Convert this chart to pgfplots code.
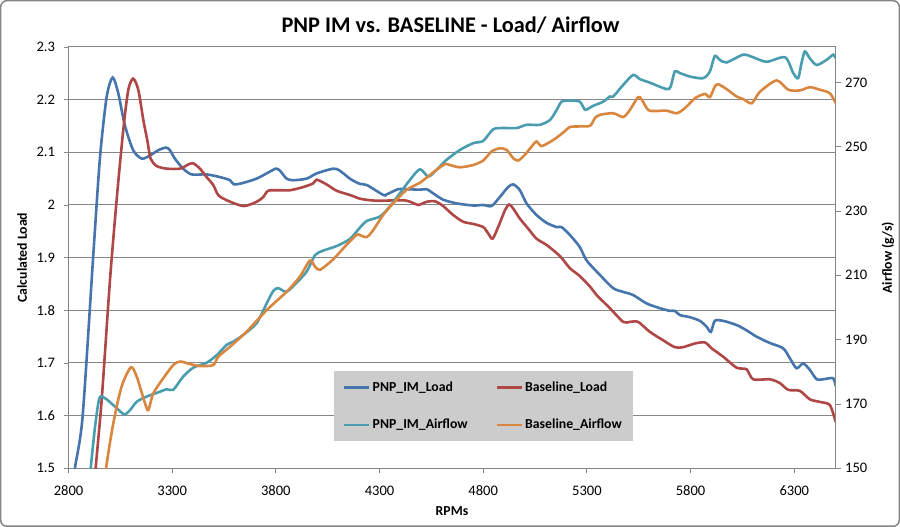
\documentclass[border=0pt]{standalone}
\usepackage{fontspec}
\setmainfont{Carlito}
\usepackage{pgfplots}
\pgfplotsset{compat=1.18}
\definecolor{cblue}{HTML}{4674AC}
\definecolor{cred}{HTML}{AE4745}
\definecolor{cteal}{HTML}{4A9DAF}
\definecolor{corange}{HTML}{D9863F}
\definecolor{axgray}{RGB}{134,134,134}
\definecolor{leggray}{RGB}{204,204,204}
\newcommand{\tfont}{\fontsize{14.6}{17}\selectfont}
\newcommand{\lfont}{\fontsize{13.8}{16}\selectfont}
\pgfplotsset{
  common/.style={
    scale only axis, width=767.2bp, height=421.3bp,
    at={(68.5bp,58.7bp)}, anchor=south west,
    xmin=2800, xmax=6500,
    tick align=outside, major tick length=5bp,
    tick style={draw=axgray, line width=0.8bp},
    axis line style={draw=axgray, line width=1bp},
    every tick label/.append style={font=\tfont, text=black},
    /pgf/number format/assume math mode=true,
    /pgf/number format/1000 sep={},
  },
  dl/.style={line width=2.6bp, smooth, tension=0.45, mark=none},
}
\begin{document}
\begin{tikzpicture}[x=1bp,y=1bp]
\useasboundingbox (0,0) rectangle (900,527);
\draw[rounded corners=6bp, line width=1.5bp, draw=axgray] (0.75,0.75) rectangle (899.25,526.25);
\node[font=\fontsize{22.4}{26}\selectfont\bfseries, anchor=base] at (450.5,494.7) {PNP IM vs. BASELINE - Load/ Airflow};
\node[font=\lfont\bfseries, rotate=90] at (22,269.4) {Calculated Load};
\node[font=\lfont\bfseries, rotate=90] at (888,269.4) {Airflow (g/s)};
\node[font=\lfont\bfseries] at (452,16) {RPMs};

\begin{axis}[common,
  ymin=1.5, ymax=2.3,
  xtick={2800,3300,3800,4300,4800,5300,5800,6300},
  ytick={1.5,1.6,1.7,1.8,1.9,2,2.1,2.2,2.3},
  xtick pos=bottom, ytick pos=left,
  xticklabel style={yshift=-9bp},
  yticklabel style={xshift=-5bp},
  ymajorgrids, grid style={draw=axgray, line width=1bp},
]
\addplot[dl, cblue] coordinates {
(2822,1.45) (2831,1.5) (2868,1.598) (2920,1.908) (2952,2.091) (2984,2.205) (3013,2.242) (3040,2.212) (3072,2.151) (3112,2.104) (3153,2.088) (3193,2.094) (3233,2.104) (3270,2.109) (3289,2.104) (3313,2.088) (3353,2.069) (3394,2.058) (3466,2.058) (3530,2.053) (3579,2.047) (3598,2.039) (3643,2.042) (3707,2.050) (3756,2.060) (3800,2.069) (3820,2.065) (3852,2.050) (3884,2.047) (3948,2.050) (3997,2.060) (4077,2.069) (4109,2.065) (4157,2.050) (4205,2.040) (4238,2.038) (4318,2.019) (4334,2.020) (4390,2.030) (4431,2.030) (4495,2.029) (4527,2.030) (4559,2.022) (4607,2.010) (4672,2.003) (4752,1.999) (4800,2.000) (4840,1.998) (4880,2.015) (4920,2.034) (4945,2.039) (4977,2.028) (5009,2.003) (5057,1.981) (5106,1.966) (5154,1.958) (5178,1.958) (5218,1.943) (5266,1.920) (5298,1.895) (5363,1.867) (5427,1.842) (5475,1.835) (5523,1.829) (5588,1.813) (5652,1.804) (5700,1.799) (5724,1.799) (5748,1.791) (5796,1.787) (5845,1.780) (5877,1.769) (5898,1.759) (5917,1.780) (5957,1.780) (6022,1.772) (6070,1.762) (6118,1.750) (6182,1.738) (6246,1.728) (6279,1.709) (6311,1.690) (6343,1.699) (6375,1.687) (6408,1.669) (6439,1.669) (6487,1.671) (6500,1.656)
};
\addplot[dl, cred] coordinates {
(2924,1.45) (2931,1.5) (2960,1.630) (3000,1.857) (3032,2.009) (3064,2.142) (3088,2.218) (3112,2.240) (3137,2.218) (3161,2.161) (3180,2.123) (3196,2.088) (3225,2.074) (3273,2.069) (3338,2.069) (3378,2.077) (3402,2.079) (3434,2.069) (3466,2.053) (3498,2.038) (3522,2.019) (3563,2.009) (3643,1.998) (3707,2.006) (3739,2.015) (3763,2.027) (3820,2.028) (3868,2.028) (3932,2.034) (3980,2.041) (3997,2.048) (4045,2.039) (4093,2.027) (4157,2.019) (4205,2.012) (4254,2.009) (4302,2.008) (4414,2.009) (4455,2.005) (4487,2.000) (4527,2.006) (4567,2.007) (4607,1.998) (4655,1.981) (4704,1.968) (4752,1.964) (4800,1.958) (4824,1.946) (4845,1.936) (4872,1.958) (4905,1.990) (4925,2.001) (4945,1.993) (4977,1.974) (5017,1.955) (5057,1.936) (5106,1.924) (5170,1.903) (5218,1.880) (5266,1.865) (5315,1.845) (5347,1.829) (5411,1.804) (5475,1.778) (5507,1.778) (5547,1.778) (5604,1.759) (5668,1.743) (5724,1.730) (5764,1.730) (5821,1.737) (5869,1.739) (5901,1.728) (5957,1.712) (6022,1.691) (6070,1.688) (6102,1.669) (6182,1.669) (6230,1.662) (6271,1.649) (6327,1.647) (6375,1.631) (6424,1.626) (6472,1.620) (6500,1.588)
};
\end{axis}

\begin{axis}[common,
  ymin=150, ymax=281,
  ytick={150,170,190,210,230,250,270},
  axis x line=none, axis y line*=right,
  yticklabel style={xshift=1bp},
  legend columns=2,
  legend cell align=left,
  legend image code/.code={\draw[#1, line width=2.6bp] (0bp,0bp) -- (25bp,0bp);},
  legend style={at={(0.346,0.231)}, anchor=north west, fill=leggray, draw=none,
    font=\lfont\bfseries, inner xsep=9bp, inner ysep=9bp, row sep=22bp,
    /tikz/every even column/.append style={column sep=26bp}},
]
\addlegendimage{cblue}
\addlegendentry{PNP\_IM\_Load}
\addlegendimage{cred}
\addlegendentry{Baseline\_Load}
\addplot[dl, cteal] coordinates {
(2900,145) (2907,150) (2928,162.9) (2949,171.8) (2976,171.8) (3024,169.2) (3068,166.8) (3097,168.1) (3129,170.7) (3177,172.3) (3241,173.8) (3273,174.6) (3305,174.4) (3353,178.5) (3402,181.3) (3466,182.8) (3515,185.2) (3563,188.4) (3595,189.4) (3643,191.5) (3707,195.1) (3756,201.3) (3788,205.2) (3812,206) (3852,204.9) (3900,207.7) (3949,211.2) (3989,216.3) (4029,217.7) (4093,219.1) (4157,221.3) (4205,224.8) (4238,226.9) (4302,228.3) (4350,231.4) (4398,235.5) (4447,239.7) (4495,243) (4535,240.7) (4575,242.8) (4623,245.9) (4688,249) (4752,251.1) (4800,251.8) (4848,255.4) (4896,255.8) (4961,255.8) (5009,256.8) (5073,256.8) (5122,258.3) (5154,261.4) (5178,264) (5218,264.3) (5266,264) (5292,261.5) (5330,262.7) (5379,264) (5411,265.6) (5427,265.6) (5475,269.2) (5523,272.3) (5556,271) (5604,269.9) (5684,267.9) (5704,268.7) (5724,273.4) (5748,272.9) (5797,271.8) (5861,271.3) (5893,273.4) (5917,278.2) (5941,277) (5974,276.2) (6054,278.6) (6102,277.8) (6167,276.4) (6256,277.8) (6295,272.9) (6319,271.3) (6335,276) (6351,279.6) (6375,277.5) (6408,275.4) (6456,277) (6488,278.6) (6500,277.5)
};
\addlegendentry{PNP\_IM\_Airflow}
\addplot[dl, corange] coordinates {
(2976,145) (2981,150) (3016,164) (3056,175.4) (3101,181.4) (3129,178.5) (3169,170.2) (3185,168.1) (3209,173.3) (3257,178) (3305,182.1) (3338,183.2) (3386,182.4) (3434,181.8) (3498,182.1) (3522,184.7) (3579,187.8) (3659,192.5) (3756,199.2) (3852,204.9) (3916,209.6) (3964,214.6) (3989,212.7) (4013,211.7) (4077,215) (4141,219.5) (4190,222.6) (4205,222.5) (4238,221.9) (4270,224.1) (4318,228.8) (4366,232.4) (4431,236.6) (4495,238.8) (4543,241.2) (4575,242.8) (4616,244.6) (4639,244.3) (4688,243.6) (4752,244.3) (4800,245.7) (4840,248.5) (4880,249.5) (4913,249) (4945,246.4) (4969,245.7) (5001,247.5) (5033,250) (5057,251.6) (5082,250.2) (5138,252.1) (5186,254.4) (5218,256.1) (5266,256.3) (5315,256.5) (5339,258.9) (5363,259.9) (5427,260.4) (5475,259.2) (5507,261.4) (5547,265.4) (5565,264.6) (5596,261.4) (5636,261.1) (5684,261.2) (5733,260.4) (5773,262) (5822,265.1) (5869,266.4) (5893,265.4) (5917,268.7) (5934,269.4) (5974,267.9) (6022,265.6) (6054,264.8) (6095,263.5) (6135,267.1) (6215,270.6) (6271,267.7) (6327,267.5) (6375,268.5) (6424,267.7) (6472,266.6) (6500,263.5)
};
\addlegendentry{Baseline\_Airflow}
\end{axis}
\end{tikzpicture}
\end{document}
